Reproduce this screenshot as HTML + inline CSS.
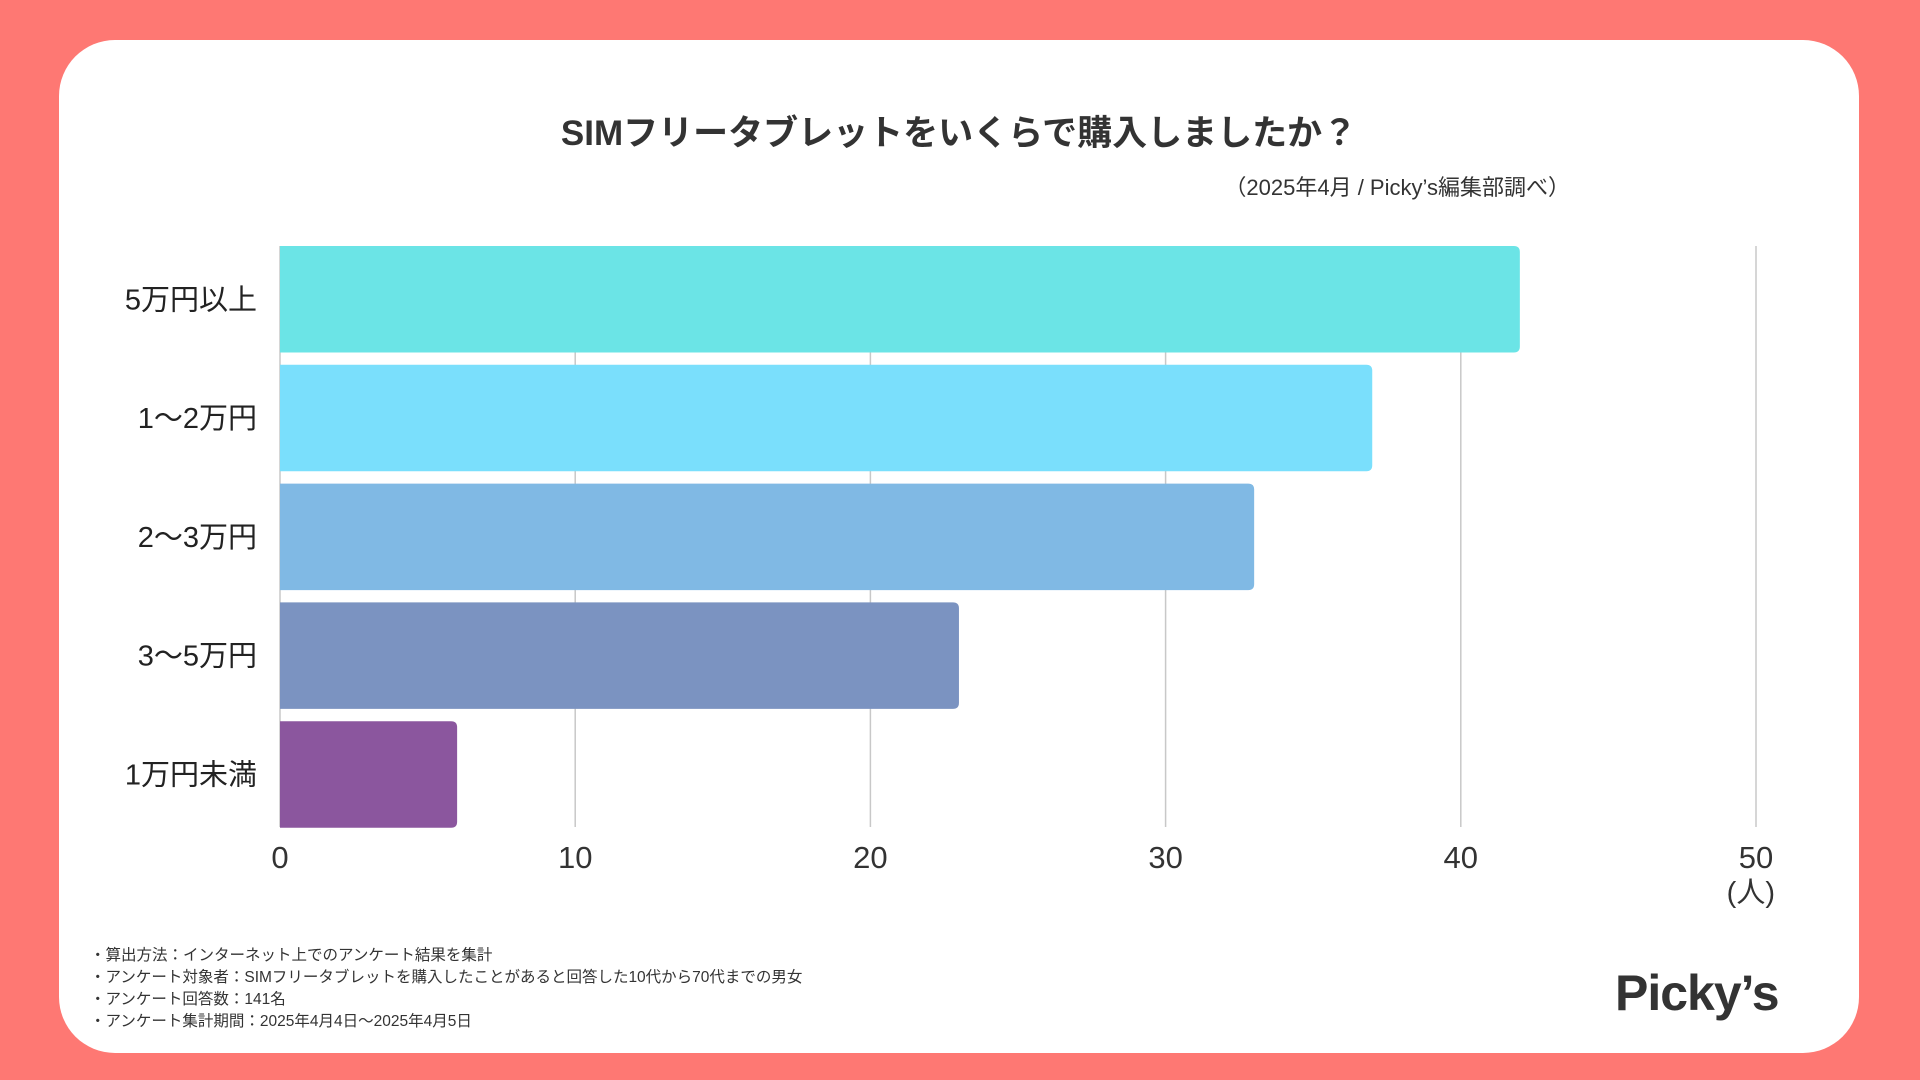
<!DOCTYPE html>
<html><head><meta charset="utf-8">
<style>
html,body{margin:0;padding:0;}
body{width:1920px;height:1080px;background:#FE7873;position:relative;overflow:hidden;font-family:"Liberation Sans","Noto Sans CJK JP",sans-serif;color:#333;}
#card{position:absolute;left:59px;top:40px;width:1800px;height:1013px;background:#fff;border-radius:56px;}
.abs{position:absolute;white-space:nowrap;}
</style></head>
<body>
<div id="card"></div>
<div class="abs" style="left:0;width:1918px;text-align:center;top:105px;font-size:35px;font-weight:bold;color:#333;">SIMフリータブレットをいくらで購入しましたか？</div>
<div class="abs" style="right:350px;top:170px;font-size:22px;color:#333;">（2025年4月 / Picky’s編集部調べ）</div>
<svg id="chart" width="1920" height="1080" style="position:absolute;left:0;top:0;"></svg>
<div class="abs" style="left:90px;top:945px;font-size:15.5px;line-height:22px;color:#333;">
<div>・算出方法：インターネット上でのアンケート結果を集計</div>
<div>・アンケート対象者：SIMフリータブレットを購入したことがあると回答した10代から70代までの男女</div>
<div>・アンケート回答数：141名</div>
<div>・アンケート集計期間：2025年4月4日〜2025年4月5日</div>
</div>
<div class="abs" style="left:1615px;top:964px;font-size:50px;font-weight:bold;color:#333;letter-spacing:-1px;">Picky’s</div>
<script>
const categories=["5万円以上","1〜2万円","2〜3万円","3〜5万円","1万円未満"];
const values=[42,37,33,23,6];
const colors=["#6BE4E6","#7ADFFC","#80B9E4","#7B93C1","#8B569E"];
const ticks=[0,10,20,30,40,50];
const svg=document.getElementById('chart');
const NS="http://www.w3.org/2000/svg";
const x0=280,x1=1756,xmax=50,yTop=246,yBottom=827,pitch=118.8,bh=106.5;
const xs=v=>x0+(x1-x0)*v/xmax;
const yb=i=>yTop+i*pitch;
function mk(t,a){const e=document.createElementNS(NS,t);for(const k in a)e.setAttribute(k,a[k]);svg.appendChild(e);return e;}
ticks.forEach(t=>{
 const l=mk('line',{x1:xs(t),x2:xs(t),y1:yTop,y2:yBottom,stroke:'#c8c8c8','stroke-width':1.5});
 
 
 const tx=mk('text',{x:xs(t),y:868,'text-anchor':'middle','font-size':31,fill:'#333','font-family':'Liberation Sans, Noto Sans CJK JP, sans-serif'});
 tx.textContent=t;
 
 
});
const u=mk('text',{x:1775,y:902,'text-anchor':'end','font-size':29,fill:'#333','font-family':'Liberation Sans, Noto Sans CJK JP, sans-serif'});
u.textContent='(人)';


values.forEach((v,i)=>{
 const y=yb(i);
 const xe=xs(v);
 const r=mk('path',{d:`M${x0},${y} H${xe-6} Q${xe},${y} ${xe},${y+6} V${y+bh-6} Q${xe},${y+bh} ${xe-6},${y+bh} H${x0} Z`,fill:colors[i]});
 
 
 const t=mk('text',{x:257,y:y+bh/2+10,'text-anchor':'end','font-size':29,fill:'#222','font-family':'Liberation Sans, Noto Sans CJK JP, sans-serif'});
 t.textContent=categories[i];
 
 
});
</script>
</body></html>
